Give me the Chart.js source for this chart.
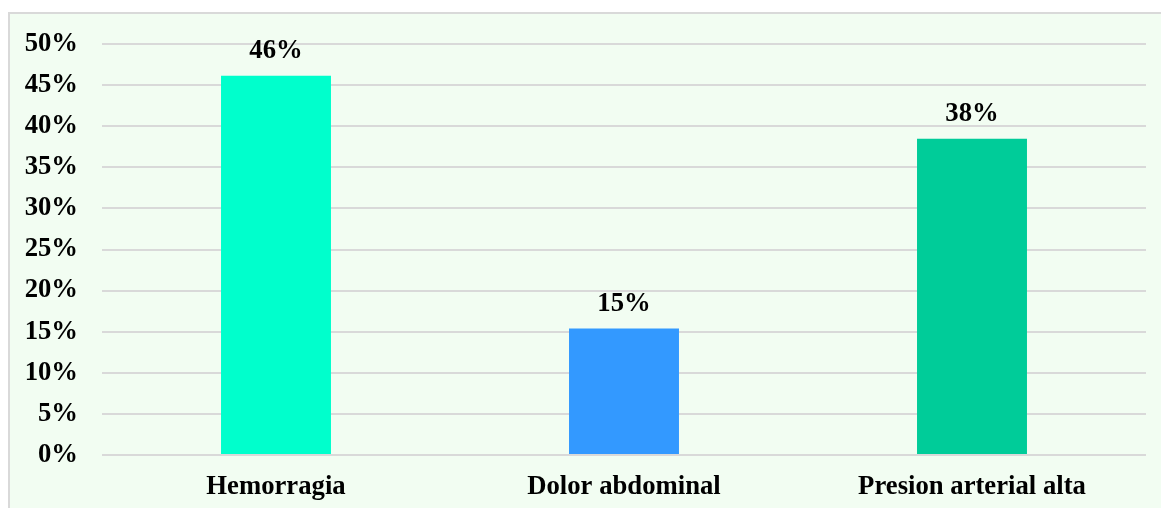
<!DOCTYPE html>
<html>
<head>
<meta charset="utf-8">
<script src="https://cdn.jsdelivr.net/npm/chart.js@4"></script>
<style>
  html, body { margin: 0; padding: 0; background: #ffffff; }
  #wrap { position: relative; width: 1161px; height: 508px; }
</style>
</head>
<body>
<div id="wrap"><canvas id="mycanvas" width="1161" height="508"></canvas></div>
<script>
var categorias = ['Hemorragia', 'Dolor abdominal', 'Presion arterial alta'];
var porcentajes = [46.15, 15.38, 38.46];
var colores = ['#00FFCC', '#3399FF', '#00CC99'];
var ticksY = [0, 5, 10, 15, 20, 25, 30, 35, 40, 45, 50];

var fuente = { family: "'Liberation Serif', 'Times New Roman', serif", size: 26.7, weight: 'bold' };

// fondo verde claro con borde arriba e izquierda
var fondo = {
  id: 'fondo',
  beforeDraw: function(chart) {
    var ctx = chart.ctx;
    ctx.save();
    ctx.fillStyle = '#ffffff';
    ctx.fillRect(0, 0, chart.width, chart.height);
    ctx.fillStyle = '#F2FDF2';
    ctx.fillRect(9, 14, chart.width - 9, chart.height - 14);
    ctx.strokeStyle = '#D9D9D9';
    ctx.lineWidth = 2;
    ctx.beginPath();
    ctx.moveTo(9, chart.height);
    ctx.lineTo(9, 13);
    ctx.lineTo(chart.width, 13);
    ctx.stroke();
    ctx.restore();
  }
};

// etiquetas de porcentaje sobre cada barra
var etiquetas = {
  id: 'etiquetas',
  afterDatasetsDraw: function(chart) {
    var ctx = chart.ctx;
    var meta = chart.getDatasetMeta(0);
    ctx.save();
    ctx.font = 'bold 26.7px ' + fuente.family;
    ctx.fillStyle = '#000000';
    ctx.textAlign = 'center';
    ctx.textBaseline = 'alphabetic';
    meta.data.forEach(function(bar, i) {
      ctx.fillText(Math.round(porcentajes[i]) + '%', bar.x, bar.y - 18);
    });
    ctx.restore();
  }
};

var chartdata = {
  labels: categorias,
  datasets: [
    {
      data: porcentajes,
      backgroundColor: colores,
      borderWidth: 0,
      barPercentage: 0.316,
      categoryPercentage: 1
    }
  ]
};

var ctx = document.getElementById('mycanvas');

var barGraph = new Chart(ctx, {
  type: 'bar',
  data: chartdata,
  plugins: [fondo, etiquetas],
  options: {
    responsive: false,
    animation: false,
    layout: { padding: { top: 44, right: 15, left: 0, bottom: 0 } },
    plugins: {
      legend: { display: false },
      tooltip: { enabled: false }
    },
    scales: {
      x: {
        grid: { display: false, drawTicks: false },
        border: { display: false },
        ticks: { color: '#000000', font: fuente, padding: 16, maxRotation: 0 },
        afterFit: function(scale) { scale.height = 53; }
      },
      y: {
        min: 0,
        max: 50,
        afterBuildTicks: function(scale) {
          scale.ticks = ticksY.map(function(v) { return { value: v }; });
        },
        grid: { color: '#D9D9D9', lineWidth: 2, drawTicks: false },
        border: { display: false },
        ticks: {
          color: '#000000',
          font: fuente,
          padding: 24,
          callback: function(v) { return v + '%'; }
        },
        afterFit: function(scale) { scale.width = 102; }
      }
    }
  }
});
</script>
</body>
</html>
